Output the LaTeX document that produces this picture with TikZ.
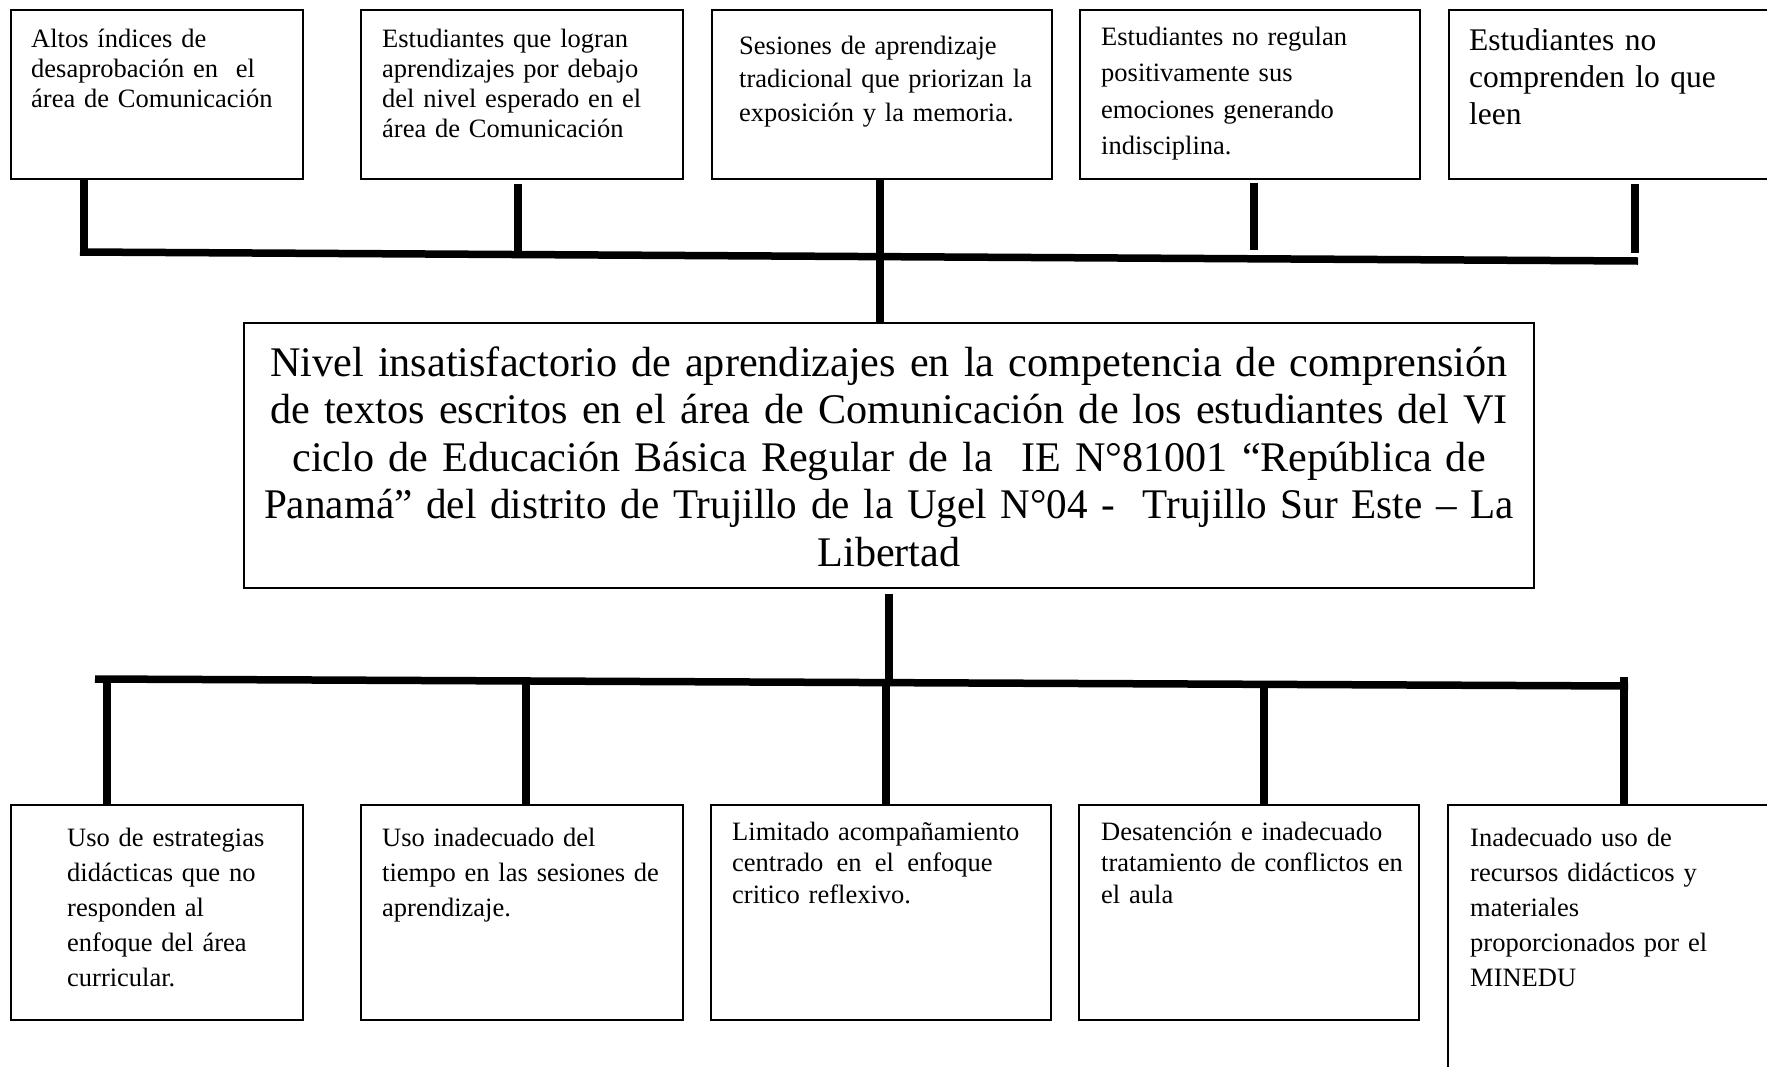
\documentclass[tikz,border=0pt]{standalone}
\usepackage{fontspec}
\usepackage{graphicx}
\setmainfont{Liberation Serif}
\begin{document}
\begin{tikzpicture}[x=1pt,y=-1pt,
  box/.style={draw=black, line width=1.5pt, inner sep=0pt, fill=white},
  txt/.style={inner sep=0pt, anchor=base west, text width=#1, align=left},
  conn/.style={line width=7.5pt, black}]
\useasboundingbox (0,0) rectangle (1767,1066);
\fill[white] (0,0) rectangle (1767,1066);
% ---------- top boxes ----------
\node[box, minimum width=292pt, minimum height=169pt] (t1) at (157,94.5) {};
\node[box, minimum width=322pt, minimum height=169pt] (t2) at (522,94.5) {};
\node[box, minimum width=340pt, minimum height=169pt] (t3) at (882,94.5) {};
\node[box, minimum width=340pt, minimum height=169pt] (t4) at (1250,94.5) {};
\node[box, minimum width=360pt, minimum height=169pt] (t5) at (1629,94.5) {};
\node[txt=380pt, font={\fontsize{26.5}{30}\selectfont}] (t1x) at (31,47)
  {Altos índices de\\desaprobación en\ \ el\\área de Comunicación};
\node[txt=380pt, font={\fontsize{26.5}{30}\selectfont}] (t2x) at (382,47)
  {Estudiantes que logran\\aprendizajes por debajo\\del nivel esperado en el\\área de Comunicación};
\node[txt=380pt, font={\fontsize{26.5}{33.5}\selectfont}] (t3x) at (739,54)
  {Sesiones de aprendizaje\\tradicional que priorizan la\\exposición y la memoria.};
\node[txt=380pt, font={\fontsize{26.5}{36.5}\selectfont}] (t4x) at (1101,45)
  {Estudiantes no regulan\\positivamente sus\\emociones generando\\indisciplina.};
\node[txt=380pt, font={\fontsize{31.5}{37}\selectfont}] (t5x) at (1469,50)
  {Estudiantes no\\comprenden lo que\\leen};
% ---------- main box ----------
\node[box, minimum width=1290pt, minimum height=265pt] (m) at (889,455.5) {};
\node[inner sep=0pt, anchor=base, text width=1500pt, align=center,
      font={\fontsize{42.2}{47.4}\selectfont}] (mx) at (889,376.5)
  {Nivel insatisfactorio de aprendizajes en la competencia de comprensión\\
   de textos escritos en el área de Comunicación de los estudiantes del VI\\
   ciclo de Educación Básica Regular de la\ \ IE N°81001 “República de\\
   \scalebox{0.975}[1]{Panamá” del distrito de Trujillo de la Ugel N°04 -\ \ Trujillo Sur Este – La}\\
   Libertad};
% ---------- bottom boxes ----------
\node[box, minimum width=292pt, minimum height=215pt] (b1) at (157,912.5) {};
\node[box, minimum width=322pt, minimum height=215pt] (b2) at (522,912.5) {};
\node[box, minimum width=340pt, minimum height=215pt] (b3) at (881,912.5) {};
\node[box, minimum width=340pt, minimum height=215pt] (b4) at (1249,912.5) {};
\node[box, minimum width=360pt, minimum height=300pt] (b5) at (1628,955) {};
\node[txt=380pt, font={\fontsize{26.5}{35}\selectfont}] (b1x) at (67,846)
  {Uso de estrategias\\didácticas que no\\responden al\\enfoque del área\\curricular.};
\node[txt=380pt, font={\fontsize{26.5}{35}\selectfont}] (b2x) at (382,846)
  {Uso inadecuado del\\tiempo en las sesiones de\\aprendizaje.};
\node[txt=380pt, font={\fontsize{26.5}{31.5}\selectfont}] (b3x) at (732,840)
  {Limitado acompañamiento\\centrado\hspace{0.5em}en\hspace{0.5em}el\hspace{0.5em}enfoque\\critico reflexivo.};
\node[txt=380pt, font={\fontsize{26.5}{31.5}\selectfont}] (b4x) at (1101,840)
  {Desatención e inadecuado\\tratamiento de conflictos en\\el aula};
\node[txt=380pt, font={\fontsize{26.5}{35}\selectfont}] (b5x) at (1470,846)
  {Inadecuado uso de\\recursos didácticos y\\materiales\\proporcionados por el\\MINEDU};
% ---------- top connectors ----------
\coordinate (tbL) at (80,252);
\coordinate (tbR) at (1638,261);
\coordinate (j1) at (84,256);
\coordinate (j2) at (518,254);
\coordinate (j3) at (880,256);
\coordinate (j4) at (1254,250);
\coordinate (j5) at (1635,253);
\draw[conn] (tbL) -- (tbR);
\draw[conn] (t1.south -| j1) -- (j1);
\draw[conn] ([yshift=-4pt]t2.south -| j2) -- (j2);
\draw[conn] (t3.south -| j3) -- (m.north -| j3);
\draw[conn] ([yshift=-3pt]t4.south -| j4) -- (j4);
\draw[conn] ([yshift=-4pt]t5.south -| j5) -- (j5);
% ---------- bottom connectors ----------
\coordinate (bbL) at (95,679);
\coordinate (bbR) at (1628,686);
\coordinate (k0) at (889,683);
\coordinate (k1) at (107,679);
\coordinate (k2) at (526,681);
\coordinate (k3) at (886,682);
\coordinate (k4) at (1264,684);
\coordinate (k5) at (1624,677);
\draw[conn] ([yshift=-5pt]m.south -| k0) -- (k0);
\draw[conn] (bbL) -- (bbR);
\draw[conn] (k1) -- (b1.north -| k1);
\draw[conn] (k2) -- (b2.north -| k2);
\draw[conn] (k3) -- (b3.north -| k3);
\draw[conn] (k4) -- (b4.north -| k4);
\draw[conn] (k5) -- (b5.north -| k5);
\end{tikzpicture}
\end{document}
